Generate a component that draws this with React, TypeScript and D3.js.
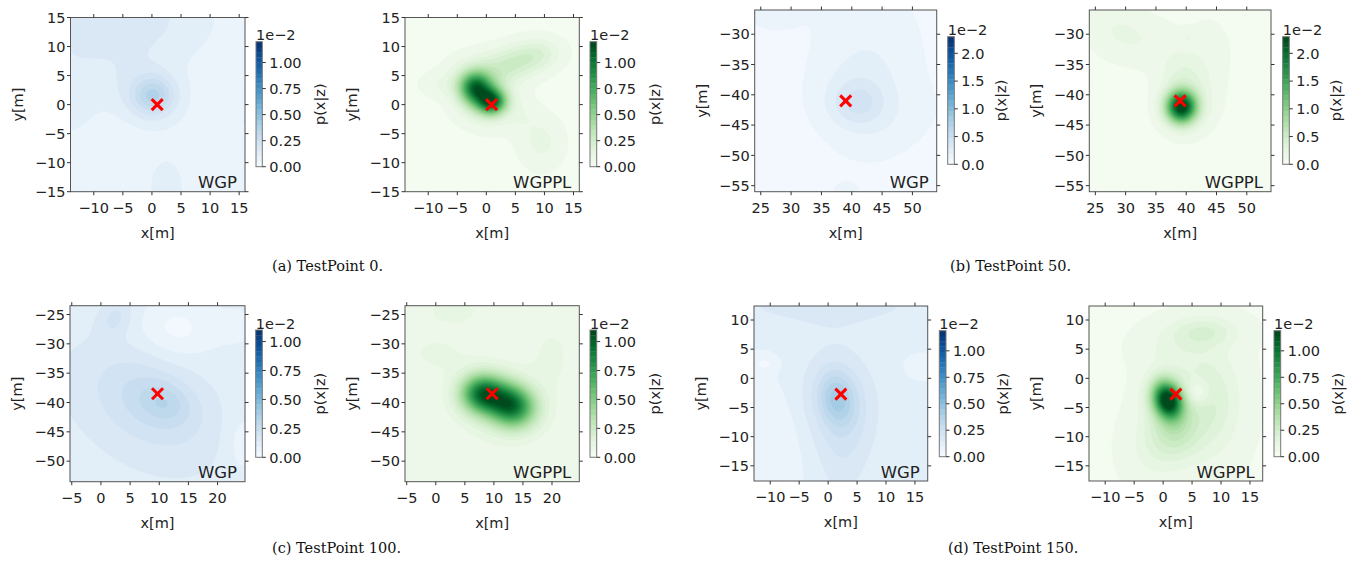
import React from "react";
import * as d3 from "d3";

// ---- data ----
const testPoints = [0, 50, 100, 150];
const methods = ["WGP", "WGPPL"];

// ground-truth position (red cross) per test point
const truthX = [0.9, 39.0, 9.7, 2.2];
const truthY = [0.0, -41.0, -38.5, -2.7];

// plotted extent per test point
const xMin = [-14, 24, -5.3, -12.8];
const xMax = [16, 54, 24.7, 17.2];
const yMin = [-15, -56, -53.5, -17.6];
const yMax = [15, -26, -23.5, 12.4];

// colorbar top (x 1e-2)
const vMax = [1.2, 2.3, 1.1, 1.19];

const xTicks = [
  [-10, -5, 0, 5, 10, 15],
  [25, 30, 35, 40, 45, 50],
  [-5, 0, 5, 10, 15, 20],
  [-10, -5, 0, 5, 10, 15],
];
const yTicks = [
  [-15, -10, -5, 0, 5, 10, 15],
  [-55, -50, -45, -40, -35, -30],
  [-50, -45, -40, -35, -30, -25],
  [-15, -10, -5, 0, 5, 10],
];
const cbTicks = [
  [0, 0.25, 0.5, 0.75, 1.0],
  [0, 0.5, 1.0, 1.5, 2.0],
  [0, 0.25, 0.5, 0.75, 1.0],
  [0, 0.25, 0.5, 0.75, 1.0],
];
const cbFormat = [".2f", ".1f", ".2f", ".2f"];

// density fields, estimated by eye as bumps: [cx, cy, sx, sy, amplitude, rotation deg]
type Bump = number[];
const baseWGP = [0.07, 0.06, 0.11, 0.1];
const baseWGPPL = [0.035, 0.06, 0.05, 0.045];

const wgp0: Bump[] = [
  [-6, 15, 10, 6, 0.12, 0],
  [-14, 2, 4, 6, 0.05, 0],
  [0.3, 1.5, 2.4, 2.2, 0.2, 20],
  [-1, 2, 4.5, 3.5, 0.1, -30],
  [2.5, -14, 2.5, 4, 0.05, 0],
  [16, -3, 3, 5, 0.03, 0],
];
const wgppl0: Bump[] = [
  [1, 0.5, 1.7, 1.5, 0.8, 0],
  [-2, 3, 1.8, 1.8, 0.65, 0],
  [-0.8, 1.8, 2.2, 2.2, 0.3, 0],
  [-0.5, 1.8, 3.8, 3.2, 0.15, -35],
  [5.5, 7.5, 3.5, 2.0, 0.2, 10],
  [0, 5.5, 3.5, 2, 0.1, 0],
  [9.5, 9, 2.5, 1.8, 0.08, 0],
  [9.5, -6.5, 2.5, 3, 0.08, 0],
  [-7, 3.5, 3, 1.5, 0.05, 0],
  [6, -2, 2, 2, 0.04, 0],
];
const wgp50: Bump[] = [
  [41, -41.5, 3, 2.5, 0.22, 0],
  [41, -40, 5, 5, 0.1, 0],
  [43, -34, 6, 9, 0.1, 0],
  [27, -26, 4, 3, 0.06, 0],
  [48, -45, 6, 3, 0.04, 30],
  [39, -56, 2, 1.5, 0.05, 0],
];
const wgppl50: Bump[] = [
  [39.2, -42, 1.7, 1.8, 2.1, 0],
  [40, -41, 3, 3.5, 0.25, 0],
  [39.5, -36, 2.5, 2.5, 0.12, 0],
  [32, -31, 5, 3, 0.12, -10],
  [28, -28, 3, 3, 0.06, 0],
  [44, -33, 3, 5, 0.06, 0],
  [40.2, -30.5, 0.5, 0.8, 0.08, 0],
];
const wgp100: Bump[] = [
  [11, -40, 3, 2.2, 0.08, -20],
  [9, -39.5, 7, 4.5, 0.1, -30],
  [6, -42, 12, 7, 0.05, -35],
  [2.5, -25.5, 1.8, 2.5, 0.08, -30],
  [13, -27.5, 4.5, 3.5, -0.08, 0],
  [24, -47, 2, 4, -0.05, 0],
  [24, -27, 3, 4, -0.02, 0],
];
const wgppl100: Bump[] = [
  [8, -38.5, 2.5, 2.2, 0.75, 0],
  [13, -40.5, 2.8, 2.4, 0.8, -20],
  [10.5, -40, 5, 4, 0.15, -20],
  [3, -24.5, 3, 1.5, 0.08, 0],
  [20, -32, 3, 5, 0.05, 0],
  [0, -31.5, 4, 2.5, 0.05, 0],
];
const wgp150: Bump[] = [
  [1.5, -3.5, 2.2, 3.2, 0.2, 10],
  [2, -4, 5, 7, 0.1, 10],
  [2.5, -12, 3, 8, 0.06, 0],
  [0, 12.4, 18, 3, 0.06, 0],
  [-9, -10, 3, 6, -0.05, 10],
  [-11, 2.5, 1.5, 1, -0.06, 0],
  [16, 2, 1.5, 1, -0.05, 0],
];
const wgppl150: Bump[] = [
  [0.8, -3.8, 1.6, 2.2, 1.0, 20],
  [0.5, -3, 2.5, 3, 0.2, 0],
  [2, -9, 3, 3.5, 0.22, 0],
  [8, -4, 3.5, 6, 0.16, 0],
  [6, -2.5, 1.5, 1.5, -0.14, 0],
  [7, 8, 4, 1.8, 0.14, 0],
  [2, 5, 4, 2.5, 0.06, 0],
  [-2, -12, 3, 4, 0.06, 0],
];
const bumps = [
  [wgp0, wgppl0],
  [wgp50, wgppl50],
  [wgp100, wgppl100],
  [wgp150, wgppl150],
];

// ---- layout (pixels) ----
const frames = [
  [[70.5, 17.5, 245, 191.7], [405, 17.5, 579.3, 191.7]],
  [[754.7, 10, 936.7, 191.7], [1089.3, 10, 1271, 191.7]],
  [[70, 305.7, 245, 481.7], [405, 305.7, 579.3, 481.7]],
  [[754, 306, 927.7, 481], [1089, 306, 1262.7, 481]],
];
const bars = [
  [[256, 41.7, 262.3, 166.7], [590, 41.7, 596.7, 166.7]],
  [[947.7, 36.7, 954.3, 164.3], [1282.7, 36.7, 1289.3, 164.3]],
  [[255.7, 330, 262.3, 457.3], [590, 330, 596.7, 457.3]],
  [[939.3, 330.7, 946, 456.7], [1274, 330.7, 1280.7, 456.7]],
];
const cbLabelOffset = [58, 47, 58, 57];
const captionPos = [[272, 271], [950, 271], [272, 553], [948, 553]];

const SANS = "'DejaVu Sans', sans-serif";
const SERIF = "'DejaVu Serif', serif";
const LEVELS = 24;
const GRID = 90;
const fmtInt = d3.format("d");

function density(list: Bump[], base: number, x: number, y: number) {
  let v = base;
  for (const [cx, cy, sx, sy, a, r] of list) {
    const t = (r * Math.PI) / 180;
    const dx = x - cx;
    const dy = y - cy;
    const u = dx * Math.cos(t) + dy * Math.sin(t);
    const w = -dx * Math.sin(t) + dy * Math.cos(t);
    v += a * Math.exp(-0.5 * ((u / sx) ** 2 + (w / sy) ** 2));
  }
  return v;
}

const Panel = ({ p, m }: { p: number; m: number }) => {
  const [l, t, r, b] = frames[p][m];
  const [cl, ct, cr, cbm] = bars[p][m];
  const x = d3.scaleLinear().domain([xMin[p], xMax[p]]).range([l, r]);
  const y = d3.scaleLinear().domain([yMin[p], yMax[p]]).range([b, t]);
  const cy = d3.scaleLinear().domain([0, vMax[p]]).range([cbm, ct]);
  const interp = m === 0 ? d3.interpolateBlues : d3.interpolateGreens;
  const base = m === 0 ? baseWGP[p] : baseWGPPL[p];
  const step = vMax[p] / LEVELS;
  const color = (k: number) => interp((k + 0.5) / LEVELS);

  const vals = new Array(GRID * GRID);
  for (let j = 0; j < GRID; j++) {
    for (let i = 0; i < GRID; i++) {
      const xv = x.invert(l + ((i + 0.5) * (r - l)) / GRID);
      const yv = y.invert(t + ((j + 0.5) * (b - t)) / GRID);
      const v = density(bumps[p][m], base, xv, yv);
      vals[j * GRID + i] = Math.max(0, Math.min(vMax[p] * 0.9999, v));
    }
  }
  const thr = d3.range(LEVELS).map((k) => k * step);
  const contours = d3.contours().size([GRID, GRID]).thresholds(thr)(vals);
  const proj = d3.geoTransform({
    point(px: number, py: number) {
      this.stream.point(l + (px * (r - l)) / GRID, t + (py * (b - t)) / GRID);
    },
  });
  const path = d3.geoPath(proj);

  const tx = x(truthX[p]);
  const ty = y(truthY[p]);
  const s = 5.5;
  const tick = 3.5;

  return (
    <g>
      <rect x={l} y={t} width={r - l} height={b - t} fill={color(0)} />
      {contours.map((c, k) => (
        <path key={k} d={path(c as any) || ""} fill={color(k)} stroke={color(k)} strokeWidth={0.3} />
      ))}
      <rect x={l} y={t} width={r - l} height={b - t} fill="none" stroke="#555" strokeWidth={1} />

      {xTicks[p].map((v) => (
        <g key={"x" + v}>
          <line x1={x(v)} x2={x(v)} y1={b} y2={b + tick} stroke="#333" />
          <line x1={x(v)} x2={x(v)} y1={t} y2={t - tick} stroke="#333" />
          <text x={x(v)} y={b + 21} textAnchor="middle" fontSize={14.5} fontFamily={SANS} fill="#222">
            {fmtInt(v)}
          </text>
        </g>
      ))}
      {yTicks[p].map((v) => (
        <g key={"y" + v}>
          <line x1={l} x2={l - tick} y1={y(v)} y2={y(v)} stroke="#333" />
          <line x1={r} x2={r + tick} y1={y(v)} y2={y(v)} stroke="#333" />
          <text x={l - 5} y={y(v)} dy="0.36em" textAnchor="end" fontSize={14.5} fontFamily={SANS} fill="#222">
            {fmtInt(v)}
          </text>
        </g>
      ))}
      <text x={(l + r) / 2} y={b + 42} dy="0.3em" textAnchor="middle" fontSize={14.5} fontFamily={SANS} fill="#222">
        x[m]
      </text>
      <text
        transform={`translate(${l - 53},${(t + b) / 2}) rotate(-90)`}
        dy="0.35em"
        textAnchor="middle"
        fontSize={14.5}
        fontFamily={SANS}
        fill="#222"
      >
        y[m]
      </text>
      <text x={r - 8} y={b - 3.5} textAnchor="end" fontSize={16.5} fontFamily={SANS} fill="#222">
        {methods[m]}
      </text>

      <line x1={tx - s} x2={tx + s} y1={ty - s} y2={ty + s} stroke="#ff0000" strokeWidth={3} />
      <line x1={tx - s} x2={tx + s} y1={ty + s} y2={ty - s} stroke="#ff0000" strokeWidth={3} />

      {thr.map((v, k) => (
        <rect key={"cb" + k} x={cl} width={cr - cl} y={cy(v + step)} height={cy(v) - cy(v + step) + 0.3} fill={color(k)} />
      ))}
      <rect x={cl} y={ct} width={cr - cl} height={cbm - ct} fill="none" stroke="#777" strokeWidth={1} />
      {cbTicks[p].map((v) => (
        <g key={"c" + v}>
          <line x1={cr} x2={cr + tick} y1={cy(v)} y2={cy(v)} stroke="#333" />
          <text x={cr + 7} y={cy(v)} dy="0.36em" fontSize={14.5} fontFamily={SANS} fill="#222">
            {d3.format(cbFormat[p])(v)}
          </text>
        </g>
      ))}
      <text x={cl} y={ct - 1.5} fontSize={14.5} fontFamily={SANS} fill="#222">
        1e−2
      </text>
      <text
        transform={`translate(${cr + cbLabelOffset[p]},${(ct + cbm) / 2}) rotate(-90)`}
        dy="0.35em"
        textAnchor="middle"
        fontSize={14.5}
        fontFamily={SANS}
        fill="#222"
      >
        p(x|z)
      </text>
    </g>
  );
};

const letters = ["a", "b", "c", "d"];

export default function App() {
  return (
    <div style={{ position: "absolute", left: 0, top: 0 }}>
      <svg width={1360} height={567} style={{ display: "block", background: "#fff" }}>
        {testPoints.map((tp, p) => (
          <g key={tp}>
            <Panel p={p} m={0} />
            <Panel p={p} m={1} />
            <text x={captionPos[p][0]} y={captionPos[p][1]} fontSize={14.5} fontFamily={SERIF} fill="#111">
              ({letters[p]}) TestPoint {tp}.
            </text>
          </g>
        ))}
      </svg>
    </div>
  );
}
